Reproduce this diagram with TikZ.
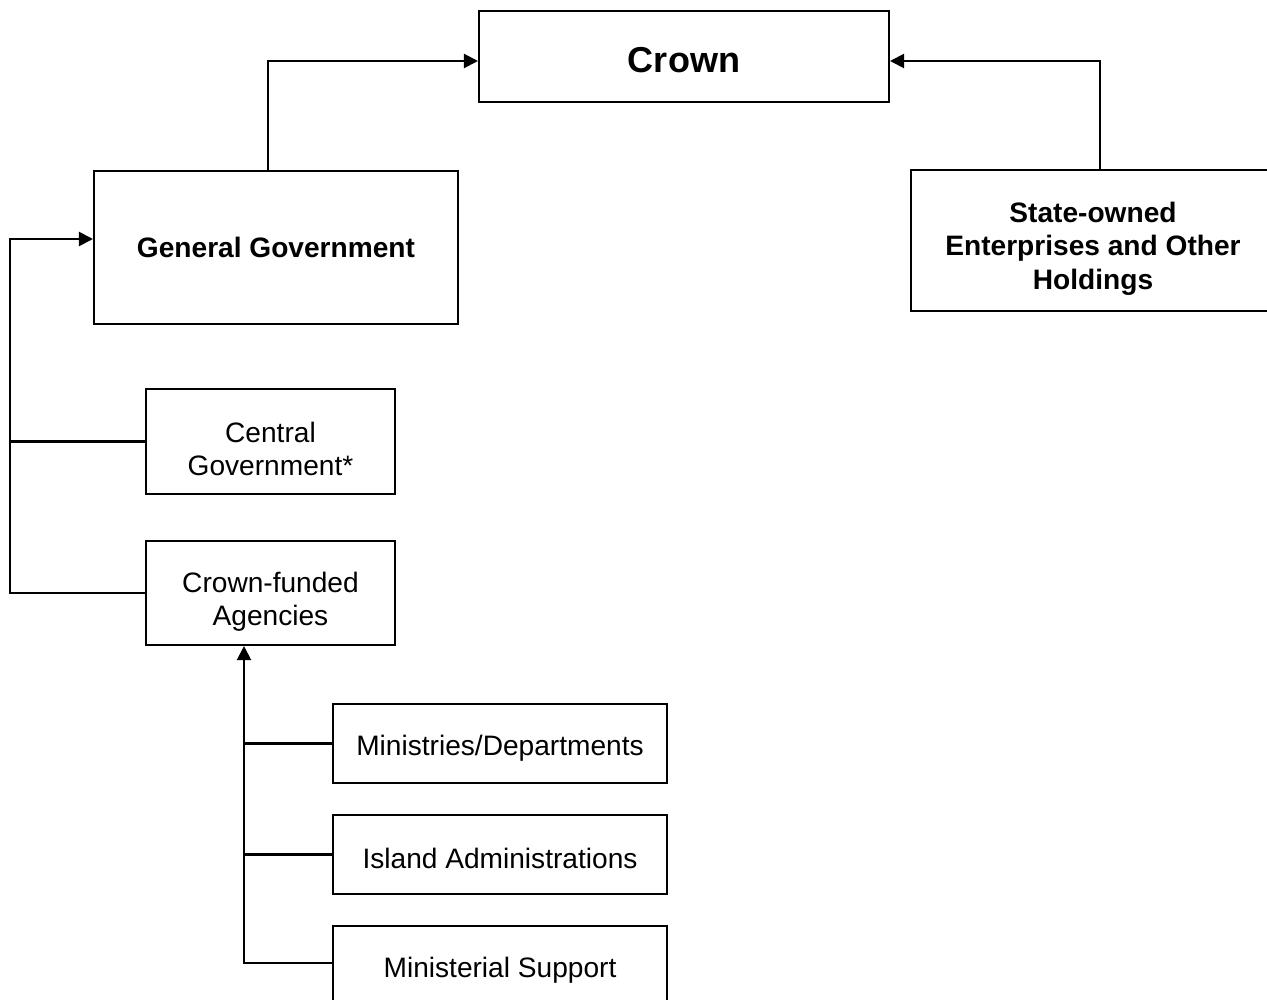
\documentclass[tikz,border=0pt]{standalone}
\usepackage{fontspec}
\setmainfont{Liberation Sans}
\usetikzlibrary{arrows.meta, calc}

\newcommand{\boxstrut}[1]{\rule{0pt}{#1}}

\tikzset{
	box/.style={draw, line width=1.2pt, align=center, inner sep=2pt, font=\fontsize{16}{18.8}\selectfont},
	bigbox/.style={box, font=\fontsize{16}{18.8}\selectfont\bfseries},
	link/.style={line width=1.2pt},
	arr/.style={link, -{Triangle[length=0.28cm, width=0.28cm]}}
}

\begin{document}
\begin{tikzpicture}[x=0.02cm, y=-0.02cm]
				\clip (0, 0) rectangle (1267, 1000);
				
				\node[bigbox, minimum width=8.2cm, minimum height=1.82cm, font=\fontsize{20.5}{24}\selectfont\bfseries] (crown) at (684, 56.5) {\boxstrut{18.5pt}Crown};
				\node[bigbox, minimum width=7.28cm, minimum height=3.06cm] (gengov) at (276, 247.5) {General Government};
				\node[bigbox, minimum width=7.28cm, minimum height=2.82cm] (soe) at (1093, 240.5) {\boxstrut{21pt}State-owned\\Enterprises and Other\\Holdings};
				\node[box, minimum width=4.98cm, minimum height=2.1cm] (central) at (270.5, 441.5) {\boxstrut{20pt}Central\\Government*};
				\node[box, minimum width=4.98cm, minimum height=2.08cm] (cfa) at (270.5, 593) {\boxstrut{22pt}Crown-funded\\Agencies};
				\node[box, minimum width=6.68cm, minimum height=1.58cm] (mindep) at (500, 743.5) {\boxstrut{17.5pt}Ministries/Departments};
				\node[box, minimum width=6.68cm, minimum height=1.58cm] (island) at (500, 854.5) {\boxstrut{16pt}Island Administrations};
				\node[box, minimum width=6.68cm, minimum height=1.58cm] (minsup) at (500, 965.5) {\boxstrut{17.5pt}Ministerial Support};
				
				\coordinate (lbus) at (10, 239);
				\coordinate (bbus) at (244, 963);
				
				\draw[arr] ([xshift=-0.16cm]gengov.north) |- ([yshift=-0.09cm]crown.west);
				\draw[arr] ([xshift=0.14cm]soe.north) |- ([yshift=-0.09cm]crown.east);
				
				\draw[arr] (cfa.west) -| (lbus) -- (lbus -| gengov.west);
				\draw[link] (central.west) -- (central.west -| lbus);
				
				\draw[arr] (minsup.west |- bbus) -| (bbus |- cfa.south);
				\draw[link] (mindep.west) -- (mindep.west -| bbus);
				\draw[link] (island.west) -- (island.west -| bbus);
\end{tikzpicture}
\end{document}
